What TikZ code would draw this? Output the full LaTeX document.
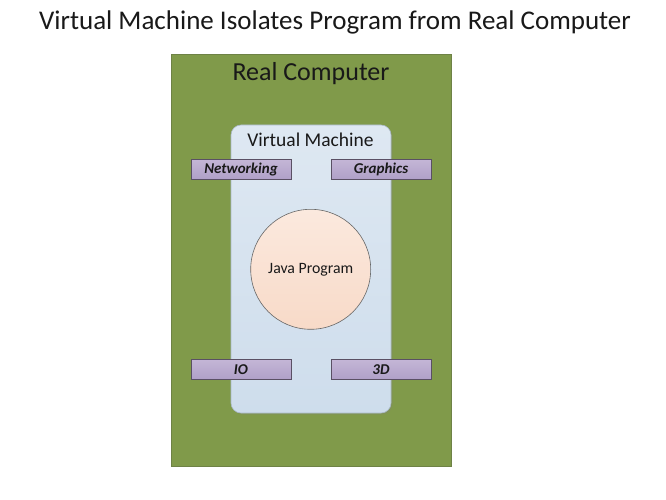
\documentclass[tikz,border=0pt]{standalone}
\usepackage{fontspec}
\setmainfont{Carlito}
\usetikzlibrary{shadows}
\definecolor{olivegreen}{RGB}{128,154,74}
\definecolor{oliveedge}{RGB}{110,130,70}
\definecolor{vmtop}{RGB}{222,232,242}
\definecolor{vmbot}{RGB}{206,221,236}
\definecolor{vmedge}{RGB}{170,185,200}
\definecolor{purtop}{RGB}{196,182,214}
\definecolor{purbot}{RGB}{176,160,200}
\definecolor{puredge}{RGB}{90,80,100}
\definecolor{peachtop}{RGB}{251,233,222}
\definecolor{peachbot}{RGB}{248,218,200}
\tikzset{
  realbox/.style={draw=oliveedge, fill=olivegreen, line width=0.8pt},
  vmbox/.style={draw=vmedge, top color=vmtop, bottom color=vmbot, rounded corners=10pt, line width=0.6pt,
    drop shadow={shadow xshift=1.5pt, shadow yshift=-1.5pt, opacity=0.25}},
  svcbox/.style={draw=puredge, top color=purtop, bottom color=purbot, line width=0.7pt,
    minimum width=100pt, minimum height=20pt, inner sep=0pt,
    font=\fontsize{15}{17}\selectfont\bfseries\itshape, text=black!90,
    drop shadow={shadow xshift=1pt, shadow yshift=-1pt, opacity=0.25}},
  progcirc/.style={circle, draw=black!60, top color=peachtop, bottom color=peachbot, line width=0.6pt,
    minimum size=120pt, inner sep=0pt, font=\fontsize{15.8}{18}\selectfont, text=black!90},
  titletext/.style={font=\fontsize{27}{30}\selectfont, text=black!90},
}
\begin{document}
\begin{tikzpicture}[x=1pt,y=-1pt]
\useasboundingbox (0,0) rectangle (666,500);
\fill[white] (0,0) rectangle (666,500);
\node[titletext] (title) at (335,22) {Virtual Machine Isolates Program from Real Computer};
\draw[realbox] (171,54) rectangle (451,466);
\node[font=\fontsize{26}{29}\selectfont, text=black!90] (real) at (311,74) {Real Computer};
\draw[vmbox] (231,125) rectangle (391,413);
\node[font=\fontsize{19.5}{22}\selectfont, text=black!90] (vm) at (310.5,140) {Virtual Machine};
\node[svcbox] (net) at (241,169.3) {Networking};
\node[svcbox] (gfx) at (381,169.3) {Graphics};
\node[svcbox] (io) at (241,369.3) {IO};
\node[svcbox] (td) at (381,369.3) {3D};
\node[progcirc] (java) at (310.7,269.3) {Java Program};
\end{tikzpicture}
\end{document}
